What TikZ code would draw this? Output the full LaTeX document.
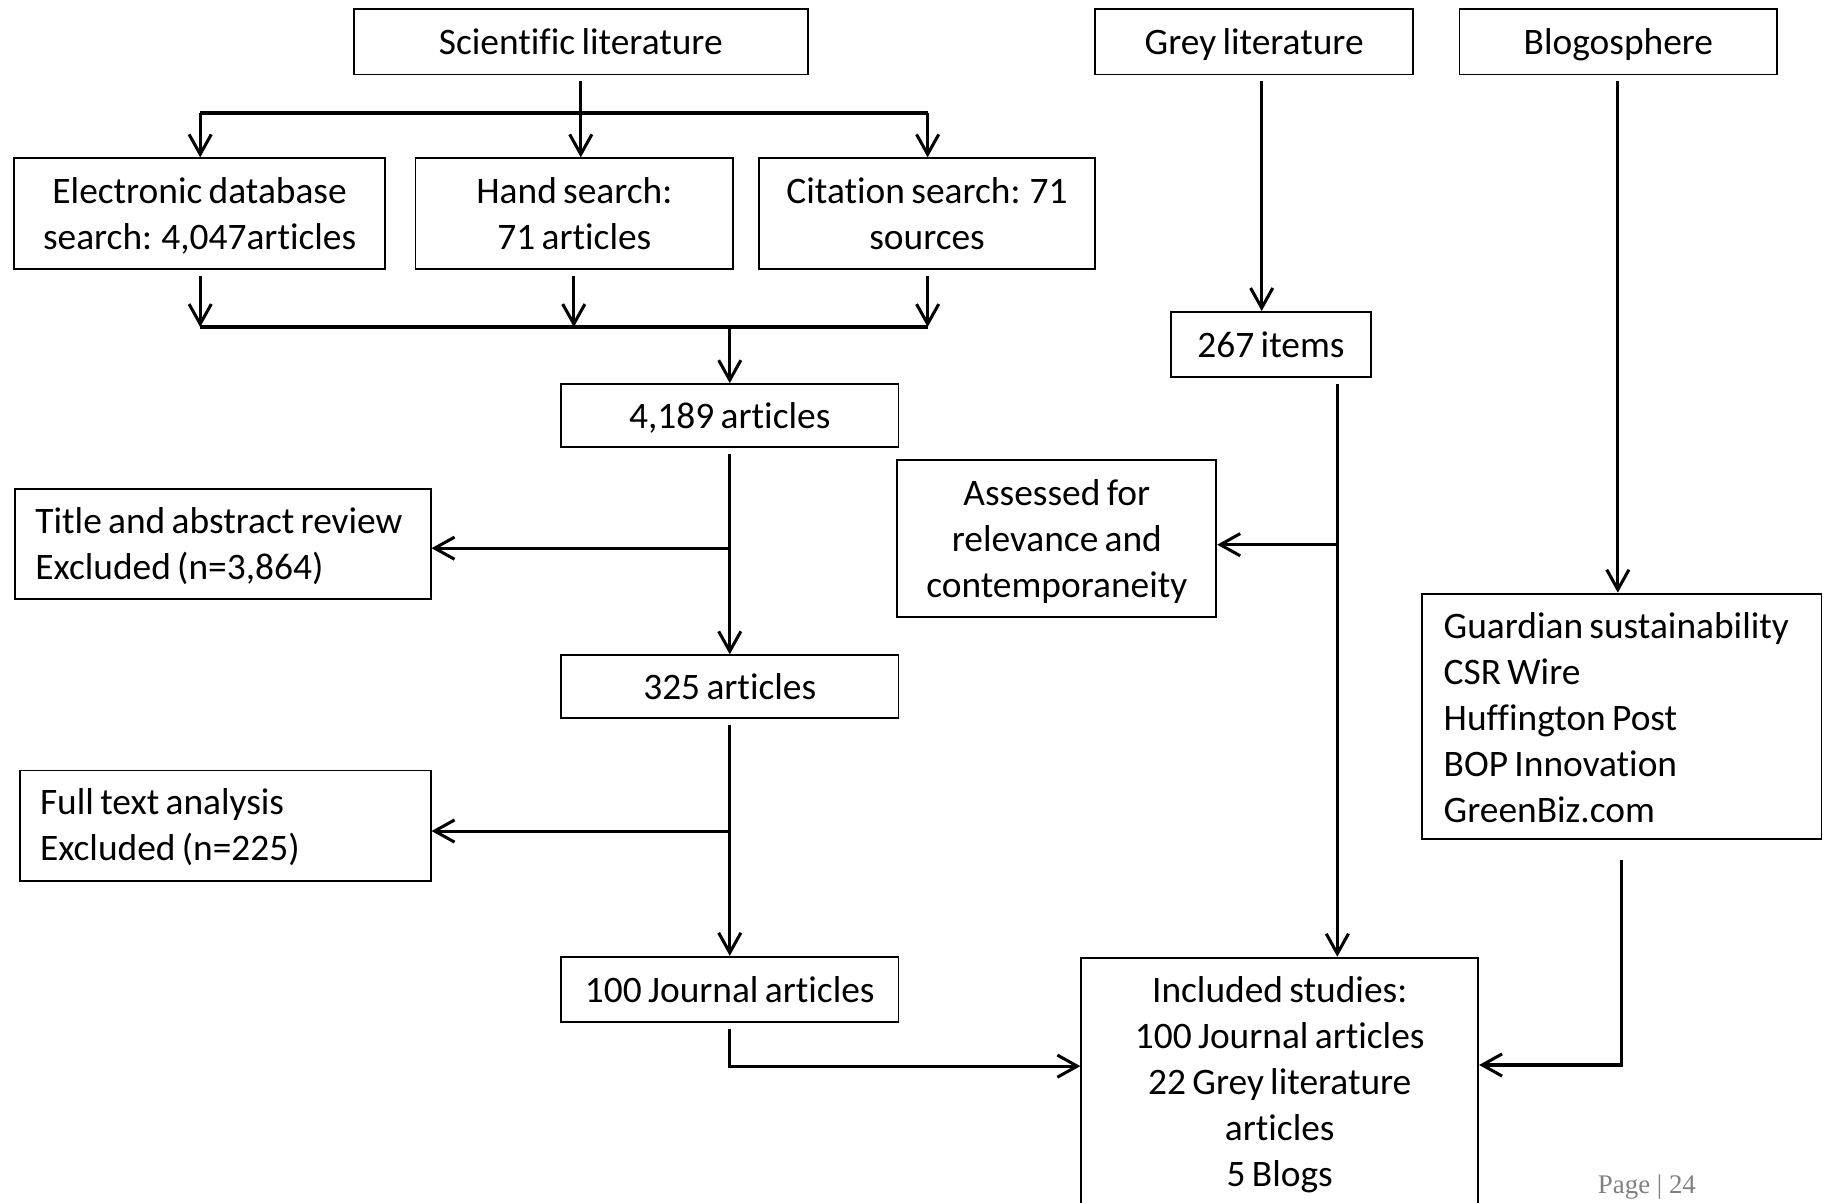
\documentclass[tikz,border=0pt]{standalone}
\usepackage{fontspec}
\setmainfont[Ligatures=NoCommon, WordSpace=0.75]{Carlito}
\newfontfamily\pagefont{Liberation Serif}
\usetikzlibrary{arrows.meta}
\tikzset{
  sz/.style 2 args={minimum width=#1*0.0175cm, minimum height=#2*0.0175cm},
  fnt/.style={font=\fontsize{16}{19.7}\selectfont},
  one/.style={text height=11pt},
  bx/.style={draw, line width=0.8pt, inner sep=0pt, align=center, fnt, text depth=0pt},
  box/.style={draw, line width=0.8pt, inner sep=0pt},
  ltx/.style={fnt, align=left, inner sep=0pt, anchor=west},
  bus/.style={line width=1.8pt},
  arr/.style={line width=1.3pt, -{Straight Barb[length=8.5pt,width=9.5pt,line width=1.3pt]}},
  sh/.style={shorten <=0.09cm}
}
\begin{document}
\begin{tikzpicture}[x=0.0175cm, y=-0.0175cm]
\useasboundingbox (0,0) rectangle (1568,1033);
% boxes
\node[bx, one, sz={390}{56}] (sci) at (499,36) {Scientific literature};
\node[bx, one, sz={273}{56}] (grey) at (1077.5,36) {Grey literature};
\node[bx, one, sz={273}{56}] (blog) at (1390.5,36) {Blogosphere};
\node[bx, sz={319}{95}] (elec) at (171.5,183.5) {Electronic database\\search: 4,047articles};
\node[bx, sz={273}{95}] (hand) at (493.5,183.5) {Hand search:\\71 articles};
\node[bx, sz={289}{95}] (cit) at (796.5,183.5) {Citation search: 71\\sources};
\node[bx, one, sz={290}{54}] (a4189) at (627,357) {4,189 articles};
\node[box, sz={357}{95}] (title) at (191.5,467.5) {};
\node[ltx] (titletext) at (30,469) {Title and abstract review\\Excluded (n=3,864)};
\node[bx, one, sz={290}{54}] (a325) at (627,590) {325 articles};
\node[box, sz={353}{95}] (full) at (193.5,709.5) {};
\node[ltx] (fulltext) at (34,711) {Full text analysis\\Excluded (n=225)};
\node[bx, one, sz={290}{56}] (j100) at (627,850) {100 Journal articles};
\node[bx, one, sz={172}{56}] (i267) at (1092,296) {267 items};
\node[bx, sz={274}{135}] (assess) at (908,462.5) {Assessed for\\relevance and\\contemporaneity};
\node[box, sz={343}{211}] (guard) at (1393.5,615.5) {};
\node[ltx] (guardtext) at (1240,616.5) {Guardian sustainability\\CSR Wire\\Huffington Post\\BOP Innovation\\GreenBiz.com};
\node[box, sz={341}{240}, anchor=north] (incl) at (1099.5,822) {};
\node[align=center, fnt, anchor=north] (incltext) at (1099.5,832) {Included studies:\\100 Journal articles\\22 Grey literature\\articles\\5 Blogs};
\node[font=\pagefont\fontsize{11.5}{13}\selectfont, text=black!50, inner sep=0pt] (page) at (1415,1020) {Page | 24};
% top bus
\coordinate (b1L) at (172,97);
\coordinate (b1R) at (797,97);
\draw[bus] (b1L) -- (b1R);
\draw[arr, sh] (sci.south) -- (sci.south |- hand.north);
\draw[arr] (b1L) -- (b1L |- elec.north);
\draw[arr] (b1R) -- (b1R |- cit.north);
% lower bus
\coordinate (b2L) at (172,281);
\coordinate (b2R) at (797,281);
\coordinate (b2M) at (493,281);
\draw[bus] (b2L) -- (b2R);
\draw[arr, sh] (b2L |- elec.south) -- (b2L);
\draw[arr, sh] (b2M |- hand.south) -- (b2M);
\draw[arr, sh] (b2R |- cit.south) -- (b2R);
\draw[arr] (a4189.north |- b2L) -- (a4189.north);
% left column
\draw[arr, sh] (a4189.south) -- (a325.north);
\coordinate (br1) at (627,471);
\draw[arr] (br1) -- (br1 -| title.east);
\draw[arr, sh] (a325.south) -- (j100.north);
\coordinate (br2) at (627,714);
\draw[arr] (br2) -- (br2 -| full.east);
\coordinate (cj) at (627,916);
\draw[arr, sh] (j100.south) |- (cj -| incl.west);
% grey column
\coordinate (gx) at (1084,0);
\draw[arr, sh] (gx |- grey.south) -- (gx |- i267.north);
\coordinate (ix) at (1149,0);
\draw[arr, sh] (ix |- i267.south) -- (ix |- incl.north);
\coordinate (br3) at (1149,468);
\draw[arr] (br3) -- (br3 -| assess.east);
% blog column
\coordinate (bx) at (1390,0);
\draw[arr, sh] (bx |- blog.south) -- (bx |- guard.north);
\coordinate (cg) at (1393,915);
\draw[arr, shorten <=0.3cm] (cg |- guard.south) |- (cg -| incl.east);
\end{tikzpicture}
\end{document}
